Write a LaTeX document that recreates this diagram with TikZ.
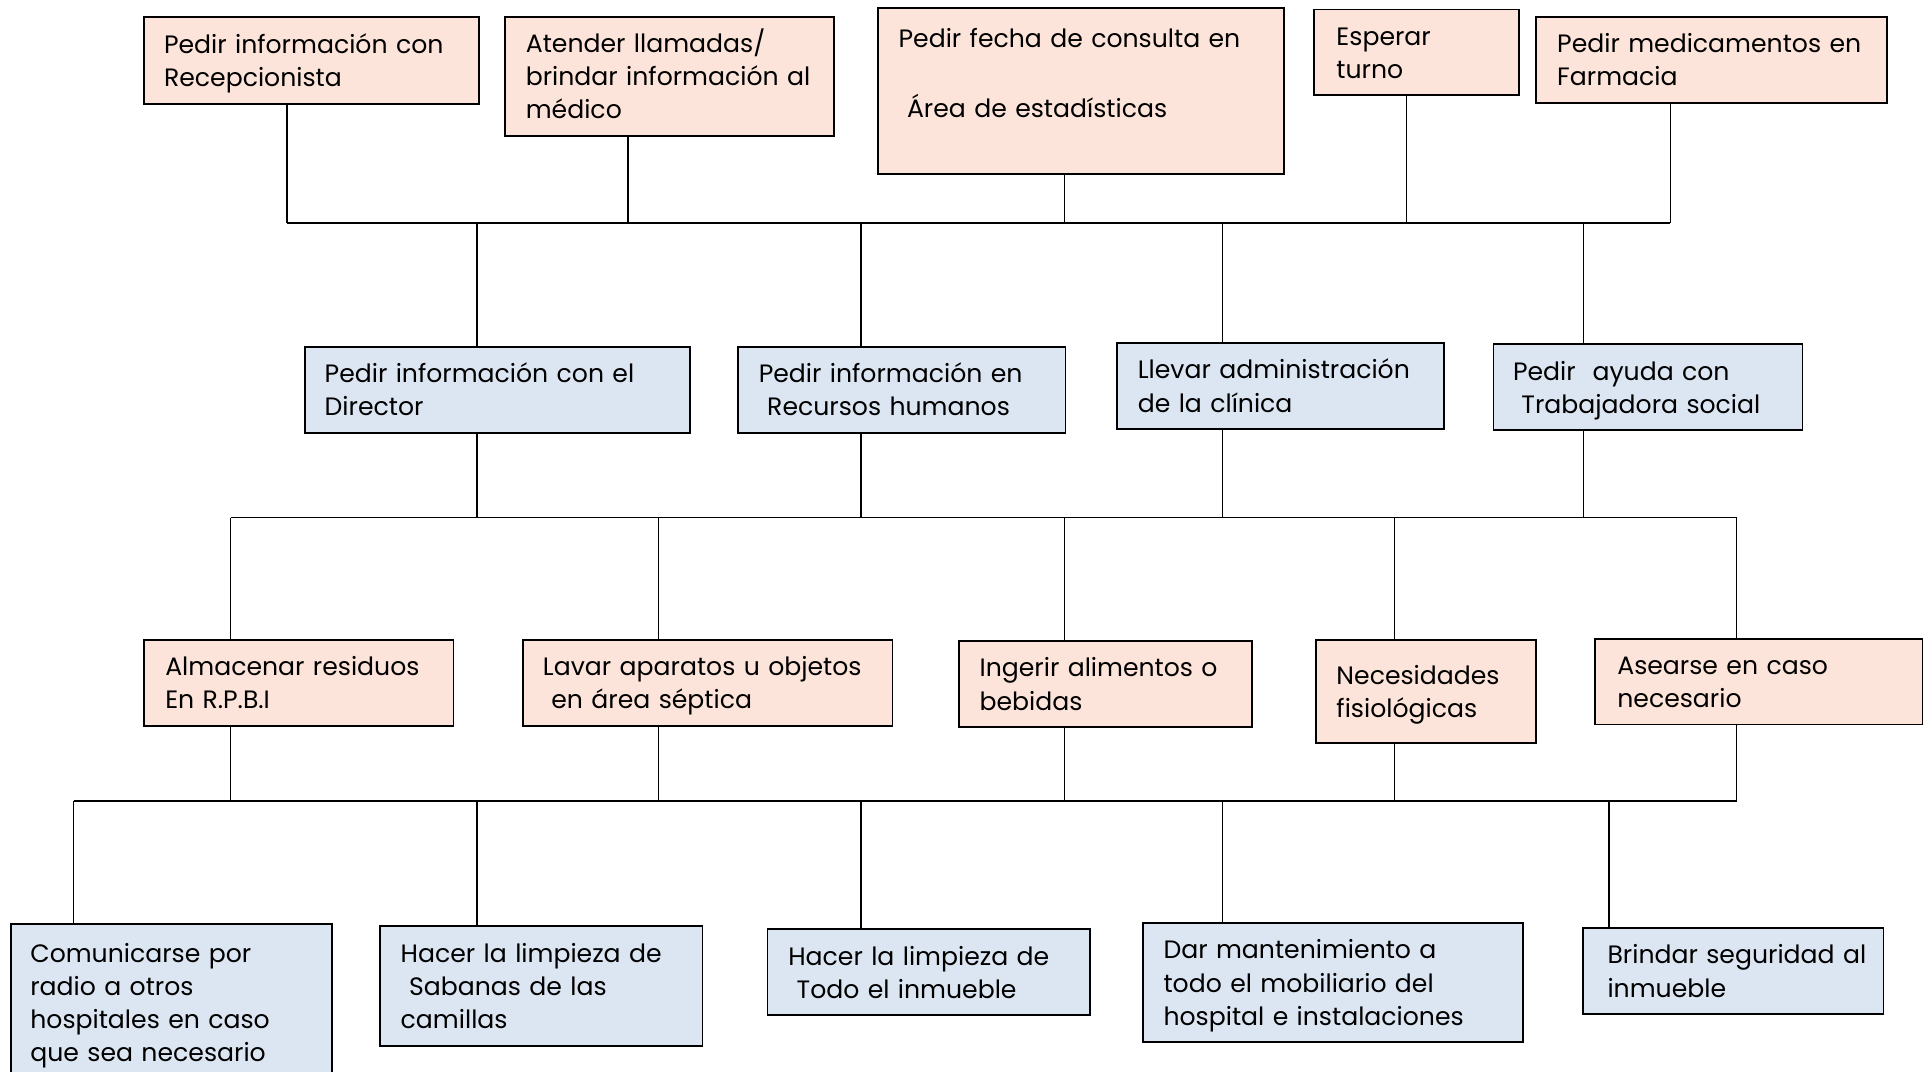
\documentclass[tikz,border=0pt]{standalone}
\usepackage{fontspec}
\setmainfont{Poppins}
\usepackage{tikz}

\definecolor{pinkfill}{RGB}{253,228,218}
\definecolor{bluefill}{RGB}{220,230,242}

\newcommand{\lineas}[1]{\begin{tabular}{@{}l@{}}\rule{0pt}{23.5pt}#1\end{tabular}}

\begin{document}
\begin{tikzpicture}[x=1pt,y=-1pt,
			box/.style={draw=black,line width=1.5pt,anchor=north west,inner ysep=0pt,
				font=\fontsize{20.5}{27}\selectfont},
			pink node/.style={box,fill=pinkfill},
			blue node/.style={box,fill=bluefill},
			link/.style={line width=1pt},
			bus/.style={line width=1.5pt}
			]
			
			\useasboundingbox (0,0) rectangle (1568,874);
			
			% primer nivel
			\node[pink node,text width=241pt,inner xsep=16pt,minimum height=71pt] (t1) at (117,13) {\lineas{Pedir información con\\Recepcionista}};
			\node[pink node,text width=234pt,inner xsep=17pt,minimum height=97pt] (t2) at (411,13) {\lineas{Atender llamadas/\\brindar información al\\médico}};
			\node[pink node,text width=297pt,inner xsep=17pt,minimum height=135pt] (t3) at (715,6) {\lineas{Pedir fecha de consulta en\\[30pt]\ Área de estadísticas\\[30pt]}};
			\node[pink node,text width=131pt,inner xsep=18pt,minimum height=70pt] (t4) at (1071,7) {\lineas{Esperar\\turno}};
			\node[pink node,text width=252pt,inner xsep=17pt,minimum height=70pt] (t5) at (1252,13) {\lineas{Pedir medicamentos en\\Farmacia}};
			
			% segundo nivel
			\node[blue node,text width=282pt,inner xsep=16pt,minimum height=70pt] (b1) at (248,282) {\lineas{Pedir información con el\\Director}};
			\node[blue node,text width=233pt,inner xsep=17pt,minimum height=70pt] (b2) at (601,282) {\lineas{Pedir información en\\\ Recursos humanos}};
			\node[blue node,text width=233pt,inner xsep=17pt,minimum height=70pt] (b3) at (910,279) {\lineas{Llevar administración\\de la clínica}};
			\node[blue node,text width=220pt,inner xsep=16pt,minimum height=70pt] (b4) at (1217,280) {\lineas{Pedir\ \ ayuda con\\\ Trabajadora social}};
			
			% tercer nivel
			\node[pink node,text width=218pt,inner xsep=17pt,minimum height=70pt] (p1) at (117,521) {\lineas{Almacenar residuos\\En R.P.B.I}};
			\node[pink node,text width=269pt,inner xsep=16pt,minimum height=70pt] (p2) at (426,521) {\lineas{Lavar aparatos u objetos\\\ en área séptica}};
			\node[pink node,text width=205pt,inner xsep=17pt,minimum height=70pt] (p3) at (781,522) {\lineas{Ingerir alimentos o\\bebidas}};
			\node[pink node,text width=146pt,inner xsep=17pt,minimum height=84pt] (p4) at (1072,521) {\lineas{Necesidades\\fisiológicas}};
			\node[pink node,text width=231pt,inner xsep=18pt,minimum height=70pt] (p5) at (1300,520) {\lineas{Asearse en caso\\necesario}};
			
			% cuarto nivel
			\node[blue node,text width=230pt,inner xsep=16pt,minimum height=127pt] (q1) at (8,753) {\lineas{Comunicarse por\\radio a otros\\hospitales en caso\\que sea necesario}};
			\node[blue node,text width=229pt,inner xsep=17pt,minimum height=98pt] (q2) at (309,754) {\lineas{Hacer la limpieza de\\\ Sabanas de las\\camillas}};
			\node[blue node,text width=229pt,inner xsep=17pt,minimum height=70pt] (q3) at (625,757) {\lineas{Hacer la limpieza de\\\ Todo el inmueble}};
			\node[blue node,text width=276pt,inner xsep=17pt,minimum height=97pt] (q4) at (931,752) {\lineas{Dar mantenimiento a\\todo el mobiliario del\\hospital e instalaciones}};
			\node[blue node,text width=205pt,inner xsep=20pt,minimum height=70pt] (q5) at (1290,756) {\lineas{Brindar seguridad al\\inmueble}};
			
			% lineas
			\foreach \n/\x in {t1/234,t2/512,t3/868,t4/1147,t5/1362} {
				\coordinate (\n-dn) at (\x,182);
				\draw[link] (\n-dn |- \n.south) -- (\n-dn);
			}
			\draw[bus] (t1-dn) -- (t5-dn);
			
			\foreach \n/\x in {b1/389,b2/702,b3/997,b4/1291} {
				\coordinate (\n-up) at (\x,182);
				\coordinate (\n-dn) at (\x,422);
				\draw[link] (\n-up) -- (\n-up |- \n.north);
				\draw[link] (\n-dn |- \n.south) -- (\n-dn);
			}
			
			\foreach \n/\x in {p1/188,p2/537,p3/868,p4/1137,p5/1416} {
				\coordinate (\n-up) at (\x,422);
				\coordinate (\n-dn) at (\x,653);
				\draw[link] (\n-up) -- (\n-up |- \n.north);
				\draw[link] (\n-dn |- \n.south) -- (\n-dn);
			}
			\draw[bus] (p1-up) -- (p5-up);
			
			\foreach \n/\x in {q1/60,q2/389,q3/702,q4/997,q5/1312} {
				\coordinate (\n-up) at (\x,653);
				\draw[link] (\n-up) -- (\n-up |- \n.north);
			}
			\draw[bus] (q1-up) -- (p5-dn);
			
			\end{tikzpicture}
\end{document}
